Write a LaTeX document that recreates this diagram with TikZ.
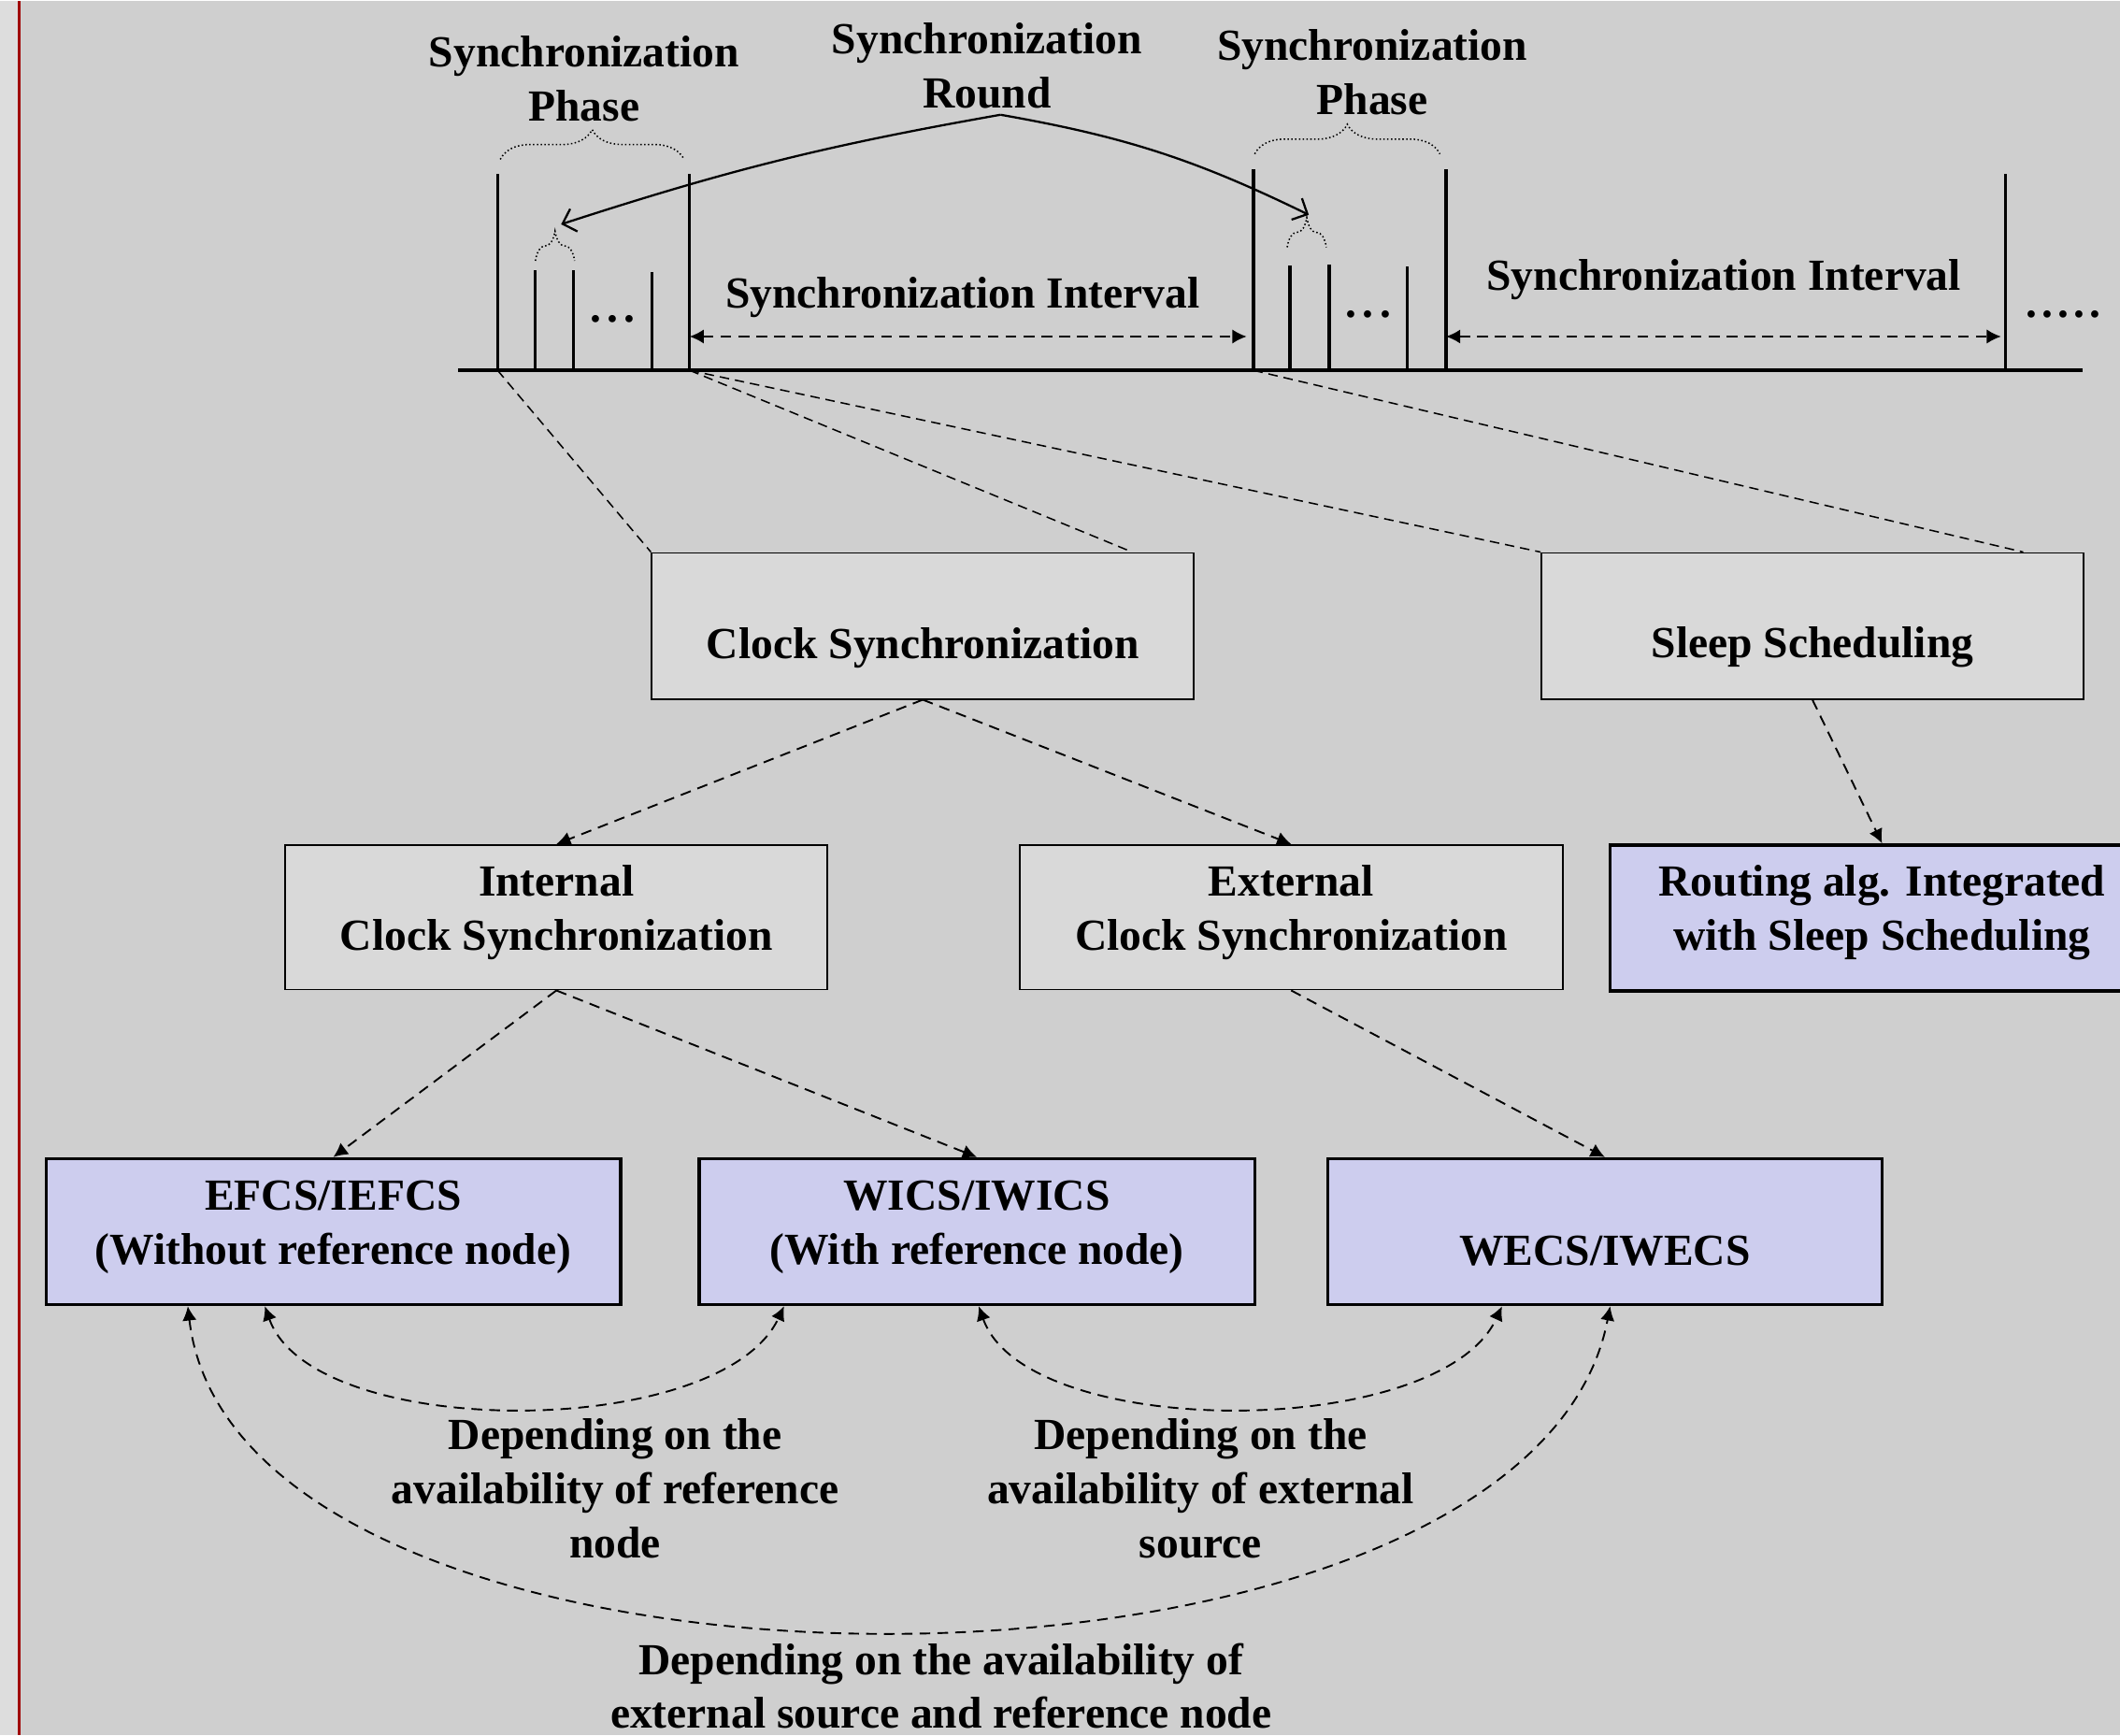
\documentclass[tikz,border=0pt]{standalone}
\usepackage{fontspec}
\setmainfont{Liberation Serif}
\usetikzlibrary{arrows.meta,decorations.pathreplacing,calc}
\definecolor{bgc}{HTML}{CFCFCF}
\definecolor{edgec}{HTML}{DDDDDD}
\definecolor{redc}{HTML}{A00000}
\definecolor{boxgray}{HTML}{D9D9D9}
\definecolor{lav}{HTML}{CDCDEE}
\begin{document}
\begin{tikzpicture}[x=0.02cm,y=-0.02cm,
  txt/.style={font=\fontsize{18.7}{22.8}\selectfont\bfseries, align=center, inner sep=0pt},
  graybox/.style={draw=black, line width=0.7pt, fill=boxgray, inner sep=0pt, minimum height=2.16cm},
  lavbox/.style={draw=black, line width=1.3pt, fill=lav, inner sep=0pt, minimum height=2.16cm},
  tickline/.style={line width=1.3pt},
  fan/.style={line width=0.6pt, dash pattern=on 4pt off 2.5pt},
  darrow/.style={line width=0.75pt, dash pattern=on 4.5pt off 3pt, -{Latex[length=6pt,width=6pt]}},
  dbl/.style={line width=0.75pt, dash pattern=on 4.5pt off 3pt, {Latex[length=6pt,width=6pt]}-{Latex[length=6pt,width=6pt]}},
  brc/.style={densely dotted, line width=0.6pt, decorate, decoration={brace, amplitude=0.44cm}},
  rarrow/.style={line width=0.9pt, -{Straight Barb[length=5pt,width=10pt]}}
]
% background
\fill[bgc] (0,0) rectangle (1568,1282);
\fill[edgec] (0,0) rectangle (14,1282);
\draw[redc, line width=1pt] (14,0) -- (14,1282);
\useasboundingbox (0,0) rectangle (1568,1282);

% timeline
\coordinate (t1) at (368,273);
\coordinate (t5) at (510,273);
\coordinate (t6) at (927,273);
\coordinate (t10) at (1069.5,273);
\coordinate (t11) at (1483.5,273);
\draw[line width=1.5pt] (339,273) -- (1540,273);
\draw[tickline] (t1) -- (368,128);
\draw[tickline] (396,273) -- (396,199);
\draw[tickline] (424,273) -- (424,199);
\draw[tickline] (482,273) -- (482,200);
\draw[tickline] (t5) -- (510,128);
\draw[tickline] (t6) -- (927,124.5);
\draw[tickline] (954,273) -- (954,195.5);
\draw[tickline] (983,273) -- (983,195);
\draw[tickline] (1041,273) -- (1041,196);
\draw[tickline] (t10) -- (1069.5,124.5);
\draw[tickline] (t11) -- (1483.5,128);

\node[txt, anchor=base] (dots1) at (453,237.5) {.\kern2.5pt.\kern2.5pt.};
\node[txt, anchor=base] (dots2) at (1012,233.5) {.\kern2.5pt.\kern2.5pt.};
\node[txt, anchor=base] (dots3) at (1526,233.5) {.\kern2pt.\kern2pt.\kern2pt.\kern2pt.};

% braces
\draw[brc] (370,117) -- (506,117);
\draw[brc] (396,192) -- (425,192);
\draw[brc] (928,113) -- (1065,113);
\draw[brc] (952,182) -- (981,182);

% top labels
\node[txt] (ph1) at (432,57.5) {Synchronization\\Phase};
\node[txt] (rnd) at (730,48) {Synchronization\\Round};
\node[txt] (ph2) at (1015,52.5) {Synchronization\\Phase};
\coordinate (apex) at (740,84);
\coordinate (s1) at (415,165);
\coordinate (s2) at (968,158);
\draw[rarrow] (apex) to[bend right=4] (s1);
\draw[rarrow] (apex) to[bend left=8] (s2);

% intervals
\node[txt] (int1) at (712,219) {Synchronization Interval};
\node[txt] (int2) at (1275,206) {Synchronization Interval};
\draw[dbl] (510,248) -- (922,248);
\draw[dbl] (1069.5,248) -- (1480,248);

% boxes
\node[graybox, minimum width=8.02cm] (cs) at (682.5,462) {};
\node[graybox, minimum width=8.02cm] (ss) at (1340.5,462) {};
\node[graybox, minimum width=8.02cm, minimum height=2.14cm] (ics) at (411.5,677.5) {};
\node[graybox, minimum width=8.04cm, minimum height=2.14cm] (ecs) at (955,677.5) {};
\node[lavbox, minimum width=8.04cm] (ra) at (1392,678) {};
\node[lavbox, minimum width=8.5cm] (efcs) at (246.5,910) {};
\node[lavbox, minimum width=8.22cm] (wics) at (722.5,910) {};
\node[lavbox, minimum width=8.2cm] (wecs) at (1187,910) {};

\node[txt] at (682.5,478) {Clock Synchronization};
\node[txt] at (1340.5,478) {Sleep Scheduling};
\node[txt] at (411.5,674) {Internal\\Clock Synchronization};
\node[txt] at (955,674) {External\\Clock Synchronization};
\node[txt] at (1392,674) {Routing alg. Integrated\\with Sleep Scheduling};
\node[txt] at (246.5,907) {EFCS/IEFCS\\(Without reference node)};
\node[txt] at (722.5,907) {WICS/IWICS\\(With reference node)};
\node[txt] at (1187,924) {WECS/IWECS};

% fan lines
\draw[fan] (t1) -- (cs.north west);
\draw[fan] (t5) -- ($(cs.north west)+(356,0)$);
\draw[fan] (t5) -- (ss.north west);
\draw[fan] (t6) -- ($(ss.north west)+(357,0)$);

% tree arrows
\draw[darrow] (cs.south) -- (ics.north);
\draw[darrow] (cs.south) -- (ecs.north);
\draw[darrow] (ss.south) -- (ra.north);
\draw[darrow] (ics.south) -- (efcs.north);
\draw[darrow] (ics.south) -- (wics.north);
\draw[darrow] (ecs.south) -- (wecs.north);

% bottom curves
\coordinate (e1) at ($(efcs.south west)+(163,0)$);
\coordinate (e2) at ($(efcs.south west)+(106,0)$);
\coordinate (w1) at ($(wics.south west)+(64,0)$);
\coordinate (w2) at ($(wics.south west)+(208,0)$);
\coordinate (x1) at ($(wecs.south west)+(130,0)$);
\coordinate (x2) at ($(wecs.south west)+(210,0)$);
\draw[dbl] (e1) .. controls (231,1065) and (533,1065) .. (w1);
\draw[dbl] (w2) .. controls (759,1065) and (1065,1065) .. (x1);
\draw[dbl] (e2) .. controls (176,1285) and (1130,1285) .. (x2);

\node[txt] at (455,1100) {Depending on the\\availability of reference\\node};
\node[txt] at (888,1100) {Depending on the\\availability of external\\source};
\node[txt] at (696,1246) {Depending on the availability of\\external source and reference node};
\end{tikzpicture}
\end{document}
